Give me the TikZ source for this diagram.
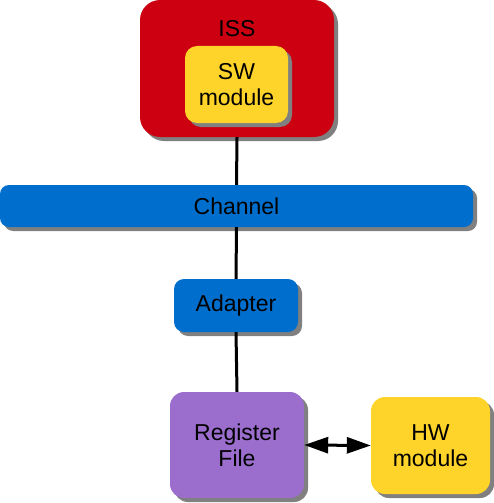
\documentclass[tikz,border=0pt]{standalone}
\usepackage{fontspec}
\setmainfont{Liberation Sans}
\usetikzlibrary{arrows.meta,shadows}
\definecolor{issred}{RGB}{204,0,17}
\definecolor{swyellow}{RGB}{255,212,42}
\definecolor{chblue}{RGB}{0,110,204}
\definecolor{regpurple}{RGB}{155,110,205}
\begin{document}
\begin{tikzpicture}[x=1pt,y=-1pt,
    box/.style={rounded corners=12pt, inner sep=0pt, align=center,
        font=\fontsize{23}{26}\selectfont,
        drop shadow={shadow xshift=4pt, shadow yshift=-4pt, fill=gray, opacity=1}},
    link/.style={line width=3pt}]
    \useasboundingbox (0,0) rectangle (494,503);
    \node[box, fill=issred, rounded corners=20pt, minimum width=194pt, minimum height=137pt] (iss) at (237,68.5) {};
    \node[font=\fontsize{23}{26}\selectfont] (isslabel) at (237,29) {ISS};
    \node[box, fill=swyellow, minimum width=103pt, minimum height=77pt] (sw) at (236.5,84.5) {SW\\module};
    \node[box, fill=chblue, rounded corners=9pt, minimum width=473pt, minimum height=42pt] (channel) at (236.5,206) {Channel};
    \node[box, fill=chblue, rounded corners=10pt, minimum width=124pt, minimum height=53pt] (adapter) at (236,305.5) {Adapter};
    \node[box, fill=regpurple, rounded corners=14pt, minimum width=134pt, minimum height=106pt] (regfile) at (237,445) {Register\\File};
    \node[box, fill=swyellow, rounded corners=14pt, minimum width=119pt, minimum height=97pt] (hw) at (430.5,445.5) {HW\\module};
    \draw[link] (iss.south) -- (channel.north);
    \draw[link] (channel.south) -- (adapter.north);
    \draw[link] (adapter.south) -- (regfile.north);
    \draw[line width=3pt, {Triangle[length=24pt,width=16pt]}-{Triangle[length=24pt,width=16pt]}] (regfile.east) -- (hw.west);
\end{tikzpicture}
\end{document}
